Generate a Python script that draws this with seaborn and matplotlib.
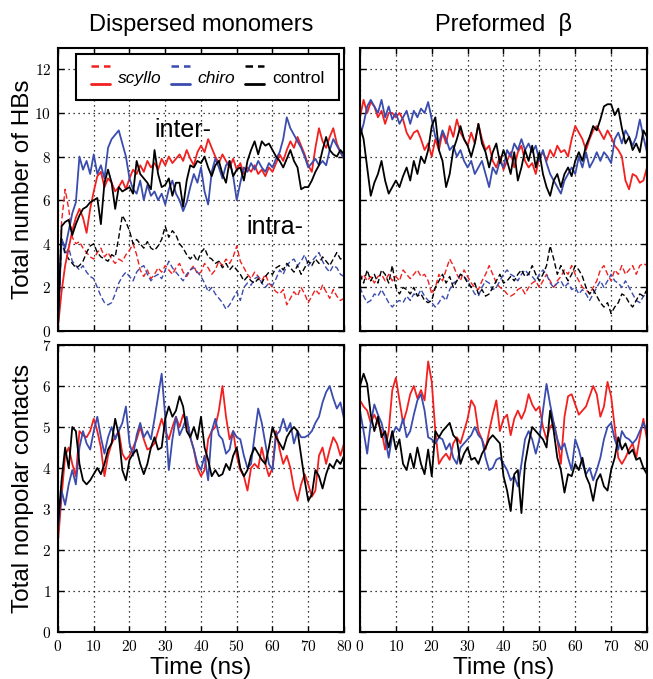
import matplotlib
matplotlib.use('Agg')
import matplotlib.pyplot as plt
import seaborn as sns
from matplotlib.lines import Line2D
from matplotlib.legend_handler import HandlerBase
from matplotlib.ticker import FuncFormatter, MultipleLocator, FixedLocator
from matplotlib.transforms import ScaledTranslation

# time axis, one sample per ns
time_ns = list(range(0, 81))
time_ticks = list(range(0, 81, 10))

# dispersed monomers: hydrogen bonds (inter = solid, intra = dashed)
disp_inter_scyllo = [0.2, 1.8, 3.0, 3.8, 4.6, 5.2, 5.6, 5.2, 4.5, 5.6,
                     6.4, 7.1, 7.3, 6.6, 7.0, 6.8, 6.4, 6.6, 6.9, 6.5,
                     7.0, 7.4, 7.2, 7.6, 7.3, 7.8, 7.5, 7.7, 7.4, 7.9,
                     7.6, 8.0, 7.7, 7.9, 8.1, 7.8, 8.3, 7.9, 7.6, 8.2,
                     8.5, 8.2, 8.8, 8.4, 8.0, 7.7, 8.1, 7.8, 7.5, 7.9,
                     7.4, 7.7, 7.2, 7.5, 7.3, 7.6, 7.2, 7.4, 7.1, 7.5,
                     7.3, 7.7, 8.1, 7.8, 8.3, 8.7, 8.4, 8.9, 8.5, 8.1,
                     7.6, 7.3, 8.4, 9.3, 8.7, 8.4, 8.9, 9.3, 8.6, 8.2, 7.9]
disp_inter_chiro = [0.2, 4.2, 3.8, 4.6, 5.4, 5.9, 8.0, 7.4, 7.8, 7.2,
                    8.1, 7.2, 7.6, 7.0, 8.4, 8.8, 9.0, 9.2, 8.6, 8.0,
                    7.0, 6.5, 6.3, 6.9, 6.0, 6.7, 6.2, 6.4, 6.0, 6.3,
                    5.8, 6.5, 6.9, 6.3, 6.0, 5.5, 5.9, 6.6, 7.2, 6.8,
                    7.5, 6.4, 5.8, 7.3, 7.9, 7.5, 7.0, 7.6, 7.8, 7.1,
                    6.0, 6.8, 7.5, 7.3, 7.7, 7.4, 7.8, 7.5, 7.3, 7.7,
                    7.5, 7.9, 8.2, 8.8, 9.8, 9.3, 9.0, 8.7, 8.4, 8.0,
                    7.5, 7.7, 7.9, 7.6, 7.8, 7.6, 8.3, 8.8, 8.5, 8.2, 7.9]
disp_inter_control = [0.2, 4.8, 5.0, 5.1, 4.4, 4.9, 5.3, 5.6, 5.7, 5.9,
                      6.0, 6.1, 4.9, 6.8, 7.4, 6.8, 5.6, 6.6, 6.4, 6.5,
                      6.6, 6.3, 7.8, 7.2, 7.0, 6.8, 6.5, 8.3, 7.2, 6.6,
                      6.7, 7.0, 6.2, 6.8, 6.8, 5.7, 6.9, 7.6, 7.5, 7.8,
                      7.7, 8.0, 7.5, 7.1, 7.6, 7.8, 7.2, 6.8, 7.8, 7.1,
                      7.4, 7.5, 6.9, 7.8, 8.3, 8.7, 8.1, 8.7, 8.5, 8.6,
                      8.3, 8.0, 7.8, 7.5, 7.9, 8.3, 7.8, 7.5, 6.5, 6.6,
                      6.6, 6.9, 7.3, 7.6, 8.3, 8.9, 8.3, 8.1, 8.0, 8.3, 8.1]
disp_intra_scyllo = [0.2, 5.0, 6.5, 5.6, 4.3, 4.0, 4.1, 3.8, 3.6, 3.4,
                     3.3, 3.6, 3.8, 3.4, 3.6, 3.3, 3.1, 3.3, 3.2, 3.5,
                     3.7, 4.0, 3.5, 2.8, 2.5, 2.8, 2.4, 2.6, 2.9, 2.7,
                     3.0, 2.8, 2.6, 2.9, 3.1, 2.7, 2.5, 2.8, 3.0, 2.6,
                     2.7, 3.1, 2.9, 2.6, 2.8, 3.2, 3.0, 3.3, 3.1, 3.4,
                     3.9, 3.2, 2.9, 2.6, 2.4, 2.7, 2.5, 2.3, 2.6, 2.2,
                     2.0, 1.8, 1.7, 1.9, 1.2, 1.5, 1.8, 1.6, 2.0, 1.7,
                     1.3, 1.6, 1.9, 1.7, 2.1, 1.8, 1.5, 1.9, 1.6, 1.4, 1.5]
disp_intra_chiro = [0.2, 4.1, 3.5, 3.8, 3.2, 3.0, 2.8, 3.0, 2.7, 2.5,
                    2.4, 2.0, 1.6, 1.3, 1.2, 1.3, 1.7, 2.2, 2.5, 2.7,
                    2.5, 2.3, 2.7, 2.9, 3.0, 2.6, 2.3, 2.5, 2.6, 2.4,
                    2.8, 3.2, 2.9, 2.7, 2.5, 2.3, 2.6, 2.8, 2.9, 2.7,
                    2.5, 2.2, 1.8, 2.0, 1.7, 1.5, 1.3, 1.0, 1.2, 1.5,
                    1.8, 1.4, 2.0, 2.2, 2.1, 2.4, 2.5, 2.2, 2.0, 2.2,
                    2.1, 2.4, 2.8, 2.6, 3.0, 3.2, 3.3, 3.0, 3.2, 3.5,
                    3.0, 3.2, 3.4, 3.6, 3.2, 2.9, 2.7, 3.0, 2.9, 2.6, 2.5]
disp_intra_control = [0.2, 4.3, 3.6, 3.3, 3.1, 2.9, 3.0, 3.2, 3.6, 3.9,
                      4.0, 3.6, 3.4, 3.3, 3.2, 3.5, 3.4, 4.3, 5.3, 5.0,
                      4.6, 4.0, 4.2, 4.0, 3.8, 4.1, 3.8, 3.7, 3.9, 4.2,
                      4.8, 4.3, 4.6, 4.4, 4.0, 3.8, 3.5, 3.3, 3.5, 3.2,
                      3.6, 3.8, 3.4, 3.3, 3.1, 3.2, 2.9, 3.1, 2.8, 3.0,
                      2.8, 2.6, 2.3, 2.5, 2.3, 2.2, 2.4, 2.2, 2.5, 2.7,
                      2.6, 2.9, 3.0, 2.8, 3.1, 2.9, 2.7, 3.0, 2.6, 2.9,
                      3.2, 3.0, 3.3, 3.1, 3.4, 3.2, 3.0, 3.3, 3.6, 3.3, 3.4]

# preformed beta: hydrogen bonds
pref_inter_scyllo = [9.8, 10.6, 10.0, 10.5, 10.3, 9.8, 10.1, 9.5, 10.0, 10.0,
                     9.8, 10.0, 9.7, 9.1, 8.8, 9.1, 9.2, 8.8, 8.3, 8.6,
                     8.0, 8.8, 8.3, 9.1, 8.6, 9.4, 8.9, 9.7, 9.1, 8.8,
                     8.5, 9.1, 8.6, 9.5, 8.8, 8.3, 8.5, 7.8, 7.5, 8.0,
                     7.4, 7.8, 8.2, 7.5, 8.2, 8.5, 7.8, 7.5, 7.7, 7.2,
                     8.0, 8.2, 7.8, 8.3, 8.0, 8.5, 8.2, 8.3, 8.0, 8.8,
                     9.4, 9.1, 8.8, 8.3, 8.8, 9.2, 9.4, 9.1, 8.8, 9.2,
                     8.9, 8.5, 8.3, 8.0, 6.9, 6.5, 7.2, 7.1, 6.8, 6.9, 7.5]
pref_inter_chiro = [8.9, 9.5, 10.3, 10.6, 10.3, 10.0, 10.6, 9.8, 10.3, 9.7,
                    10.0, 9.5, 9.8, 10.1, 9.5, 10.1, 9.8, 10.2, 10.0, 10.5,
                    9.7, 8.9, 8.6, 9.2, 8.8, 8.3, 8.5, 8.0, 8.3, 7.8,
                    7.5, 7.8, 7.2, 7.5, 7.8, 7.2, 6.6, 7.5, 7.2, 7.8,
                    7.5, 8.3, 8.0, 8.6, 8.3, 8.8, 8.3, 8.6, 8.2, 8.5,
                    7.8, 8.3, 7.7, 7.2, 6.9, 6.6, 6.3, 6.9, 7.2, 7.5,
                    7.2, 8.0, 7.5, 8.2, 7.5, 7.8, 8.2, 7.8, 8.2, 8.0,
                    7.7, 8.8, 9.1, 8.6, 9.2, 8.9, 8.5, 8.9, 9.7, 8.9, 8.2]
pref_inter_control = [9.4, 8.8, 7.5, 6.2, 6.8, 7.2, 7.8, 6.9, 6.3, 6.6,
                      6.9, 6.6, 7.1, 7.5, 6.9, 7.8, 7.2, 8.0, 7.7, 8.3,
                      9.4, 9.8, 8.3, 7.8, 6.6, 7.2, 8.3, 8.8, 9.4, 8.8,
                      8.5, 8.0, 8.6, 9.5, 8.6, 8.2, 7.5, 8.2, 8.6, 7.7,
                      8.3, 7.8, 7.2, 8.2, 6.9, 7.5, 8.3, 7.8, 8.5, 7.5,
                      8.2, 7.2, 6.6, 6.2, 6.9, 7.2, 6.6, 7.2, 7.5, 7.1,
                      7.8, 8.2, 7.8, 8.5, 8.9, 9.4, 9.2, 9.7, 10.3, 10.4,
                      10.4, 9.9, 10.2, 9.3, 8.6, 8.9, 8.3, 8.6, 8.2, 9.2, 8.9]
pref_intra_scyllo = [2.3, 2.6, 2.3, 2.5, 2.2, 2.5, 2.6, 2.3, 2.6, 2.3,
                     2.5, 2.3, 2.8, 2.6, 2.4, 2.6, 2.8, 2.5, 2.6, 2.3,
                     1.7, 2.0, 2.6, 2.3, 2.8, 3.3, 3.0, 2.6, 2.3, 2.8,
                     2.5, 2.2, 2.0, 1.9, 2.3, 2.6, 3.0, 2.6, 2.2, 2.0,
                     1.9, 1.7, 1.6, 1.7, 1.9, 2.0, 1.7, 2.0, 2.2, 2.3,
                     2.0, 2.3, 2.6, 2.3, 2.0, 2.3, 2.5, 2.8, 2.6, 3.0,
                     2.6, 2.3, 2.0, 1.9, 1.7, 2.0, 2.3, 2.8, 3.0, 2.6,
                     2.3, 2.8, 2.6, 3.0, 2.6, 2.8, 3.0, 2.6, 3.0, 3.1, 3.0]
pref_intra_chiro = [2.0, 1.6, 1.3, 1.4, 1.7, 1.6, 1.9, 1.6, 1.3, 1.1,
                    1.3, 1.4, 1.3, 1.6, 1.4, 1.7, 1.6, 1.9, 1.6, 1.4,
                    1.3, 1.1, 1.3, 1.6, 1.4, 1.9, 2.2, 2.3, 2.6, 2.5,
                    2.3, 2.0, 1.7, 1.6, 2.0, 2.3, 2.2, 1.9, 2.0, 2.3,
                    2.6, 2.8, 2.6, 2.5, 2.3, 2.6, 2.8, 2.6, 2.5, 2.3,
                    2.6, 2.8, 2.6, 2.2, 2.0, 2.2, 2.3, 2.0, 2.2, 1.9,
                    2.0, 1.7, 1.9, 1.7, 1.4, 1.7, 2.0, 2.3, 2.0, 2.3,
                    2.6, 2.3, 2.2, 2.0, 2.3, 2.0, 1.7, 1.4, 1.3, 1.6, 1.7]
pref_intra_control = [2.6, 2.2, 2.8, 2.3, 2.6, 2.2, 2.8, 2.6, 2.2, 3.0,
                      2.0, 1.7, 2.0, 1.9, 1.7, 2.0, 1.6, 1.7, 1.4, 1.3,
                      1.4, 2.0, 2.3, 2.6, 2.2, 2.5, 2.0, 2.3, 2.6, 2.5,
                      2.2, 2.0, 2.2, 1.7, 1.9, 1.6, 1.7, 2.0, 2.3, 2.6,
                      2.2, 2.3, 2.5, 2.3, 2.6, 2.8, 2.5, 2.6, 3.0, 2.6,
                      2.3, 2.6, 3.0, 3.9, 3.3, 2.6, 3.0, 2.6, 2.3, 2.6,
                      3.0, 2.8, 2.5, 2.0, 1.7, 1.9, 1.6, 1.3, 1.1, 1.3,
                      0.8, 1.1, 1.3, 1.7, 1.6, 1.3, 1.1, 1.4, 1.7, 1.6, 1.9]

# nonpolar contacts
disp_np_scyllo = [2.2, 3.3, 4.3, 4.5, 4.1, 3.8, 4.9, 4.8, 4.75, 4.9,
                  5.2, 4.9, 4.5, 3.8, 4.3, 4.6, 4.75, 4.9, 4.35, 4.2,
                  4.3, 4.5, 4.7, 5.0, 4.7, 4.45, 4.5, 4.6, 4.9, 5.2,
                  4.9, 4.7, 5.0, 5.25, 5.0, 5.3, 5.1, 4.75, 4.45, 4.0,
                  3.8, 3.95, 4.7, 4.9, 5.0, 5.4, 6.0, 5.25, 4.7, 4.9,
                  4.3, 3.95, 3.8, 3.45, 4.0, 4.1, 4.0, 4.5, 4.1, 3.8,
                  4.0, 4.9, 4.45, 4.1, 4.3, 4.0, 3.5, 3.2, 3.6, 3.85,
                  3.6, 3.3, 3.45, 4.3, 4.5, 4.1, 4.45, 4.75, 4.6, 4.3, 4.6]
disp_np_chiro = [2.5, 3.45, 3.1, 3.6, 3.95, 3.6, 4.5, 4.9, 4.6, 4.45,
                 4.9, 5.25, 4.75, 4.35, 4.75, 5.0, 4.7, 4.9, 5.1, 5.5,
                 4.6, 4.3, 4.8, 5.1, 4.75, 4.9, 4.7, 5.2, 5.75, 6.3,
                 5.25, 3.95, 4.7, 5.25, 4.8, 5.0, 5.25, 4.75, 4.45, 4.1,
                 3.95, 4.3, 3.7, 4.9, 5.2, 4.8, 4.7, 4.35, 4.45, 4.9,
                 4.75, 4.7, 4.3, 4.0, 4.1, 4.8, 5.45, 5.1, 4.6, 4.1,
                 3.95, 4.8, 4.9, 5.2, 4.9, 5.1, 4.6, 4.9, 4.75, 4.75,
                 4.8, 4.9, 5.1, 5.25, 5.6, 5.85, 6.0, 5.7, 5.45, 5.6, 5.2]
disp_np_control = [2.6, 3.7, 4.5, 4.0, 5.0, 4.9, 4.1, 3.7, 3.6, 3.7,
                   3.85, 4.0, 3.85, 4.1, 4.45, 4.6, 5.2, 4.8, 3.95, 3.7,
                   4.2, 4.35, 4.45, 4.1, 3.85, 4.1, 4.5, 4.75, 4.45, 4.5,
                   5.2, 5.5, 5.25, 5.4, 5.75, 5.5, 4.9, 4.75, 5.0, 4.7,
                   5.25, 4.5, 4.2, 3.8, 3.95, 3.8, 3.85, 4.1, 3.95, 4.3,
                   4.5, 4.0, 3.8, 3.95, 4.3, 4.5, 4.35, 4.2, 4.1, 4.5,
                   5.0, 4.75, 4.6, 4.45, 4.75, 4.9, 5.0, 4.9, 4.3, 3.7,
                   3.2, 3.35, 3.95, 3.8, 3.5, 3.85, 4.1, 4.0, 4.2, 4.1, 4.3]
pref_np_scyllo = [5.65, 5.5, 5.4, 5.1, 5.3, 5.1, 4.9, 4.45, 4.9, 5.9,
                  6.2, 5.65, 5.1, 5.4, 5.8, 6.0, 5.7, 5.9, 5.65, 6.6,
                  6.1, 4.9, 4.1, 4.25, 4.35, 4.2, 4.6, 4.75, 4.6, 4.9,
                  5.2, 5.65, 5.5, 4.9, 4.7, 4.45, 4.9, 5.3, 5.65, 4.9,
                  5.2, 5.3, 4.8, 5.2, 5.4, 5.2, 5.4, 5.8, 5.55, 5.4,
                  5.5, 5.0, 4.7, 5.0, 5.1, 4.7, 4.1, 5.25, 5.75, 5.8,
                  5.55, 5.3, 5.4, 5.5, 5.75, 6.0, 5.8, 5.25, 5.5, 6.1,
                  5.75, 5.0, 4.25, 4.1, 4.25, 4.45, 4.6, 4.25, 4.75, 5.2, 4.7]
pref_np_chiro = [5.4, 4.9, 4.35, 5.1, 5.55, 5.3, 5.1, 4.75, 4.25, 4.8,
                 5.0, 4.9, 5.2, 4.75, 4.9, 5.3, 5.65, 5.8, 5.4, 4.75,
                 4.7, 4.6, 4.75, 4.7, 4.45, 4.6, 4.25, 4.1, 4.5, 4.6,
                 4.7, 4.8, 5.0, 4.8, 4.7, 4.25, 3.95, 4.0, 4.2, 4.25,
                 4.1, 3.95, 3.7, 3.8, 3.55, 4.1, 4.7, 4.9, 4.7, 4.35,
                 4.7, 5.4, 6.05, 5.55, 5.1, 4.7, 4.45, 4.6, 4.25, 3.95,
                 4.7, 4.45, 4.1, 3.85, 4.0, 3.7, 3.95, 4.25, 4.7, 5.0,
                 5.1, 4.7, 4.45, 4.9, 4.75, 4.7, 4.6, 4.7, 4.9, 5.1, 4.9]
pref_np_control = [6.0, 6.3, 6.05, 5.3, 4.9, 5.25, 4.75, 4.9, 4.5, 4.9,
                   4.45, 4.7, 4.1, 3.95, 4.35, 4.0, 4.5, 4.1, 3.85, 4.45,
                   3.8, 4.9, 4.75, 4.9, 5.0, 5.1, 4.8, 4.7, 4.1, 4.35,
                   4.5, 4.2, 4.25, 4.1, 4.35, 4.5, 4.7, 4.8, 4.7, 4.6,
                   3.8, 3.45, 2.95, 3.85, 3.95, 2.9, 4.1, 4.6, 5.0, 4.9,
                   4.8, 4.7, 4.5, 5.4, 4.9, 4.25, 3.95, 3.4, 3.85, 3.8,
                   4.1, 3.95, 4.25, 3.8, 3.6, 3.2, 3.7, 3.85, 3.55, 3.45,
                   3.95, 4.25, 4.75, 4.45, 4.6, 4.35, 4.45, 4.2, 4.25, 4.0, 3.85]

RED = '#f2201f'
BLUE = '#3a4cad'
BLACK = 'black'
DASH = (0, (4, 2))

sns.set_style('ticks')
plt.rcParams['font.family'] = ['Liberation Sans', 'DejaVu Sans']
plt.rcParams['mathtext.fontset'] = 'cm'
plt.rcParams['axes.linewidth'] = 1.5
for key in ('text.color', 'axes.labelcolor', 'xtick.color', 'ytick.color'):
    plt.rcParams[key] = 'black'


def draw(ax, values, color, dashed=False):
    sns.lineplot(x=time_ns, y=values, ax=ax, color=color,
                 linestyle=DASH if dashed else '-',
                 lw=1.0 if dashed else 1.3,
                 estimator=None, errorbar=None)


def style_axis(ax, ymax, ystep, show_x, show_y):
    ax.set_xlim(0, 80)
    ax.set_ylim(0, ymax)
    ax.xaxis.set_major_locator(FixedLocator(time_ticks))
    ax.yaxis.set_major_locator(MultipleLocator(ystep))
    fmt = FuncFormatter(lambda v, p: f'${int(round(v))}$')
    ax.xaxis.set_major_formatter(fmt)
    ax.yaxis.set_major_formatter(fmt)
    ax.tick_params(direction='in', length=4, width=1, top=True, right=True,
                   labelsize=11, pad=5,
                   labelbottom=show_x, labelleft=show_y)
    ax.grid(True, color='black', linestyle=(0, (1, 3)), lw=0.9)
    ax.set_xlabel('')
    ax.set_ylabel('')
    for sp in ax.spines.values():
        sp.set_visible(True)
        sp.set_linewidth(1.5)
        sp.set_color('black')


class StackedHandler(HandlerBase):
    # dashed line above solid line, like the reference legend
    def create_artists(self, legend, orig_handle, xdescent, ydescent,
                       width, height, fontsize, trans):
        dashed, solid = orig_handle
        top = Line2D([-xdescent, width - xdescent], [height * 1.05, height * 1.05],
                     color=dashed.get_color(), linestyle=(0, (3, 2)), lw=1.8)
        bot = Line2D([-xdescent, width - xdescent], [-height * 0.1, -height * 0.1],
                     color=solid.get_color(), lw=2.0)
        top.set_transform(trans)
        bot.set_transform(trans)
        return [top, bot]


fig = plt.figure(figsize=(6.53, 6.79), dpi=100)
ax_tl = fig.add_axes([0.0888, 0.5125, 0.438, 0.4175])
ax_tr = fig.add_axes([0.5513, 0.5125, 0.4395, 0.4175])
ax_bl = fig.add_axes([0.0888, 0.0692, 0.438, 0.4227])
ax_br = fig.add_axes([0.5513, 0.0692, 0.4395, 0.4227])

for vals, col in [(disp_intra_scyllo, RED), (disp_intra_chiro, BLUE), (disp_intra_control, BLACK)]:
    draw(ax_tl, vals, col, dashed=True)
for vals, col in [(disp_inter_scyllo, RED), (disp_inter_chiro, BLUE), (disp_inter_control, BLACK)]:
    draw(ax_tl, vals, col)

for vals, col in [(pref_intra_scyllo, RED), (pref_intra_chiro, BLUE), (pref_intra_control, BLACK)]:
    draw(ax_tr, vals, col, dashed=True)
for vals, col in [(pref_inter_scyllo, RED), (pref_inter_chiro, BLUE), (pref_inter_control, BLACK)]:
    draw(ax_tr, vals, col)

for vals, col in [(disp_np_scyllo, RED), (disp_np_chiro, BLUE), (disp_np_control, BLACK)]:
    draw(ax_bl, vals, col)
for vals, col in [(pref_np_scyllo, RED), (pref_np_chiro, BLUE), (pref_np_control, BLACK)]:
    draw(ax_br, vals, col)

style_axis(ax_tl, 13, 2, False, True)
style_axis(ax_tr, 13, 2, False, False)
style_axis(ax_bl, 7, 1, True, True)
style_axis(ax_br, 7, 1, True, False)

ax_tl.set_title('Dispersed monomers', fontsize=17, pad=12)
ax_tr.set_title('Preformed  β', fontsize=17, pad=12)
ax_tl.set_ylabel('Total number of HBs', fontsize=17.5)
ax_bl.set_ylabel('Total nonpolar contacts', fontsize=17.5)
ax_tl.yaxis.set_label_coords(-0.085, 0.5)
ax_bl.yaxis.set_label_coords(-0.085, 0.5)
ax_bl.set_xlabel('Time (ns)', fontsize=17.5, labelpad=2)
ax_br.set_xlabel('Time (ns)', fontsize=17.5, labelpad=2)

ax_tl.text(27.0, 9.2, 'inter-', fontsize=18, va='center', ha='left')
ax_tl.text(52.8, 4.75, 'intra-', fontsize=18, va='center', ha='left')

handles = []
for col in (RED, BLUE, BLACK):
    handles.append((Line2D([], [], color=col), Line2D([], [], color=col)))
leg = ax_tl.legend(handles, ['scyllo', 'chiro', 'control'], ncol=3,
                   handler_map={tuple: StackedHandler()},
                   loc='upper left', bbox_to_anchor=(0.063, 0.977),
                   borderaxespad=0, fontsize=12.5,
                   handlelength=1.1, handleheight=1.0, handletextpad=0.45,
                   columnspacing=0.55, borderpad=0.85, fancybox=False,
                   framealpha=1, edgecolor='black')
leg.get_frame().set_linewidth(1.5)
leg.get_texts()[0].set_fontstyle('italic')
leg.get_texts()[1].set_fontstyle('italic')

# keep the last "80" label of the right panel inside the figure edge
fig.canvas.draw()
for tick in ax_br.xaxis.get_major_ticks():
    if abs(tick.get_loc() - 80) < 1e-6:
        tick.label1.set_transform(tick.label1.get_transform() +
                                  ScaledTranslation(-4 / 72, 0, fig.dpi_scale_trans))

fig.savefig('out.png', dpi=100)
